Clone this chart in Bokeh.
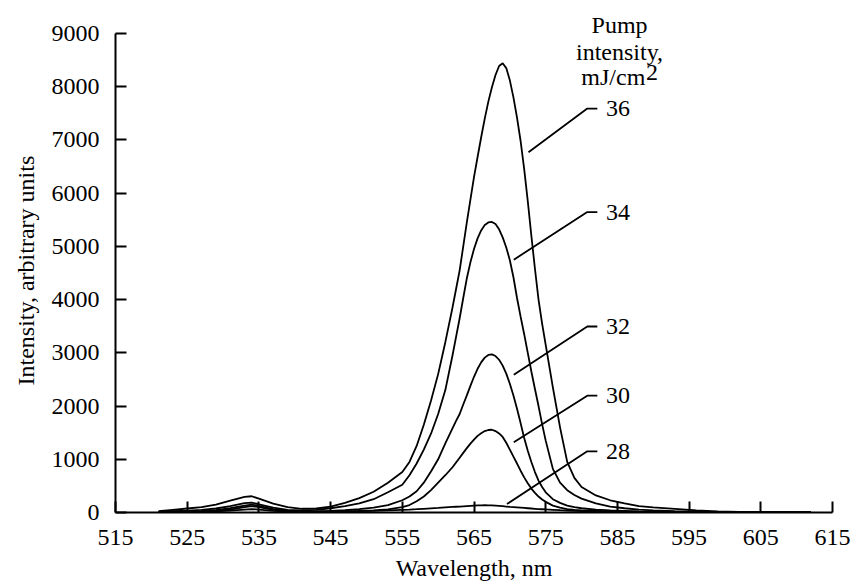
from bokeh.plotting import figure
from bokeh.models import Label, FixedTicker, Range1d, ColumnDataSource, Title
from bokeh.core.properties import value
from bokeh.embed import file_html
from bokeh.resources import INLINE

# Emission spectra at several pump intensities
wavelength = [521, 523, 525, 527, 529, 531, 533, 534, 535, 537, 539, 541, 543, 545,
              547, 549, 551, 553, 555, 556, 557, 558, 559, 560, 561,
              562, 562.5, 563, 563.5, 564, 564.5, 565, 565.5, 566, 566.5, 567, 567.5,
              568, 568.5, 569, 569.5, 570, 570.5, 571, 571.5, 572, 572.5, 573, 573.5,
              574, 574.5, 575,
              576, 577, 578, 579, 580, 582, 584, 586, 588, 590, 593, 596, 599, 602, 605, 608, 612]

intensity_36 = [25, 50, 75, 100, 150, 225, 295, 305, 260, 165, 100, 70, 75, 110,
                180, 270, 390, 560, 760, 950, 1250, 1650, 2100, 2600, 3200,
                3850, 4200, 4550, 5000, 5450, 5880, 6300, 6680, 7050, 7400, 7720, 7990,
                8220, 8390, 8440, 8350, 8120, 7800, 7420, 6980, 6450, 5850, 5200, 4580,
                4000, 3550, 3150,
                2350, 1600, 950, 650, 480, 320, 230, 170, 120, 95, 70, 40, 20, 10, 5, 5, 0]

intensity_34 = [10, 25, 35, 50, 75, 120, 175, 185, 155, 90, 50, 40, 50, 80,
                120, 170, 250, 380, 520, 700, 920, 1180, 1480, 1850, 2300,
                2950, 3300, 3650, 4030, 4400, 4700, 4950, 5150, 5300, 5400, 5450, 5460,
                5420, 5320, 5170, 4980, 4740, 4420, 4030, 3680, 3350, 3000, 2650, 2320,
                2000, 1660, 1350,
                820, 560, 420, 330, 260, 170, 110, 80, 55, 40, 25, 15, 10, 5, 0, 0, 0]

intensity_32 = [5, 10, 20, 30, 45, 80, 130, 150, 125, 65, 35, 20, 20, 30,
                45, 65, 90, 140, 230, 300, 400, 560, 770, 1000, 1300,
                1580, 1720, 1850, 2030, 2200, 2380, 2550, 2700, 2820, 2910, 2960, 2970,
                2940, 2870, 2760, 2610, 2420, 2200, 1950, 1680, 1400, 1160, 950, 760,
                600, 480, 380,
                250, 180, 130, 100, 80, 55, 40, 30, 20, 15, 10, 5, 0, 0, 0, 0, 0]

intensity_30 = [0, 5, 10, 15, 30, 55, 100, 120, 100, 50, 25, 15, 15, 20,
                25, 30, 40, 60, 100, 140, 210, 300, 420, 560, 700,
                850, 940, 1030, 1120, 1210, 1295, 1370, 1440, 1490, 1530, 1550, 1555,
                1530, 1485, 1420, 1310, 1180, 1050, 920, 785, 660, 550, 450, 370,
                300, 245, 200,
                130, 90, 65, 50, 40, 30, 20, 15, 10, 5, 5, 0, 0, 0, 0, 0, 0]

intensity_28 = [0, 0, 5, 10, 20, 35, 55, 65, 55, 30, 15, 10, 10, 15,
                20, 25, 30, 40, 50, 55, 62, 70, 78, 86, 95,
                104, 108, 112, 116, 120, 124, 128, 132, 135, 137, 135, 132,
                128, 123, 118, 112, 105, 100, 95, 90, 85, 80, 75, 70,
                65, 61, 57,
                50, 43, 37, 32, 28, 22, 18, 14, 10, 7, 5, 0, 0, 0, 0, 0, 0]

series = [intensity_36, intensity_34, intensity_32, intensity_30, intensity_28]
pump_labels = ["36", "34", "32", "30", "28"]

x_ticks = [515, 525, 535, 545, 555, 565, 575, 585, 595, 605, 615]
y_ticks = [0, 1000, 2000, 3000, 4000, 5000, 6000, 7000, 8000, 9000]

# Callout layout: label height, and the point near each curve the leader points to
label_y = [7590, 5645, 3495, 2195, 1150]
leader_end_x = [572.6, 570.55, 570.55, 570.55, 569.6]
leader_end_y = [6770, 4750, 2590, 1320, 160]
leader_knee_x = 580.8
leader_tail_x = 582.2
label_text_x = 583.4

FONT = "Liberation Serif"
FS = "24px"

# Frame runs a little above 9000 so the heading fits; the axis itself stops at 9000
p = figure(width=852, height=588, output_backend="svg", toolbar_location=None,
           x_range=Range1d(515, 615), y_range=Range1d(0, 9526),
           min_border_left=115, min_border_right=20,
           min_border_top=5, min_border_bottom=76)
p.outline_line_color = None
p.xgrid.visible = False
p.ygrid.visible = False
p.background_fill_color = "white"
p.border_fill_color = "white"

for ax in (p.xaxis[0], p.yaxis[0]):
    ax.axis_line_width = 2
    ax.axis_line_color = "black"
    ax.major_tick_line_width = 2
    ax.major_tick_line_color = "black"
    ax.major_tick_in = 11
    ax.major_tick_out = 0
    ax.minor_tick_line_color = None
    ax.major_label_text_font = FONT
    ax.major_label_text_font_size = FS
    ax.major_label_text_color = "black"
    ax.axis_label_text_font = FONT
    ax.axis_label_text_font_size = FS
    ax.axis_label_text_font_style = "normal"
    ax.axis_label_text_color = "black"

p.yaxis.bounds = (0, 9000)
p.xaxis.ticker = FixedTicker(ticks=x_ticks)
p.yaxis.ticker = FixedTicker(ticks=y_ticks)
p.xaxis.axis_label = "Wavelength, nm"
p.xaxis.major_label_standoff = 17
p.yaxis.major_label_standoff = 16
p.xaxis.axis_label_standoff = 7

# Vertical title centred on the 0..9000 span of the axis rather than the whole frame
p.add_layout(Title(text="Intensity, arbitrary units", align="left", offset=127,
                   text_font=FONT, text_font_size=FS, text_font_style="normal",
                   text_color="black", standoff=20), "left")

for ys in series:
    p.line(wavelength, ys, line_color="black", line_width=1.8)

# Leader lines from each curve to its pump-intensity label
for ly, ex, ey in zip(label_y, leader_end_x, leader_end_y):
    p.line([ex, leader_knee_x, leader_tail_x], [ey, ly, ly],
           line_color="black", line_width=1.8)

src = ColumnDataSource(dict(x=[label_text_x] * len(pump_labels), y=label_y, t=pump_labels))
p.text(x="x", y="y", text="t", source=src, text_font=value(FONT),
       text_font_size=FS, text_baseline="middle", text_align="left", text_color="black")

# Legend heading above the callouts
head_x = 585.3
for txt, hy in (("Pump", 9151), ("intensity,", 8649)):
    p.add_layout(Label(x=head_x, y=hy, text=txt, text_font=FONT, text_font_size=FS,
                       text_align="center", text_baseline="middle", text_color="black"))
p.add_layout(Label(x=588.9, y=8179, text="mJ/cm", text_font=FONT, text_font_size=FS,
                   text_align="right", text_baseline="middle", text_color="black"))
p.add_layout(Label(x=589.0, y=8260, text="2", text_font=FONT, text_font_size=FS,
                   text_align="left", text_baseline="middle", text_color="black"))

open("out.html", "w").write(file_html(p, INLINE))
